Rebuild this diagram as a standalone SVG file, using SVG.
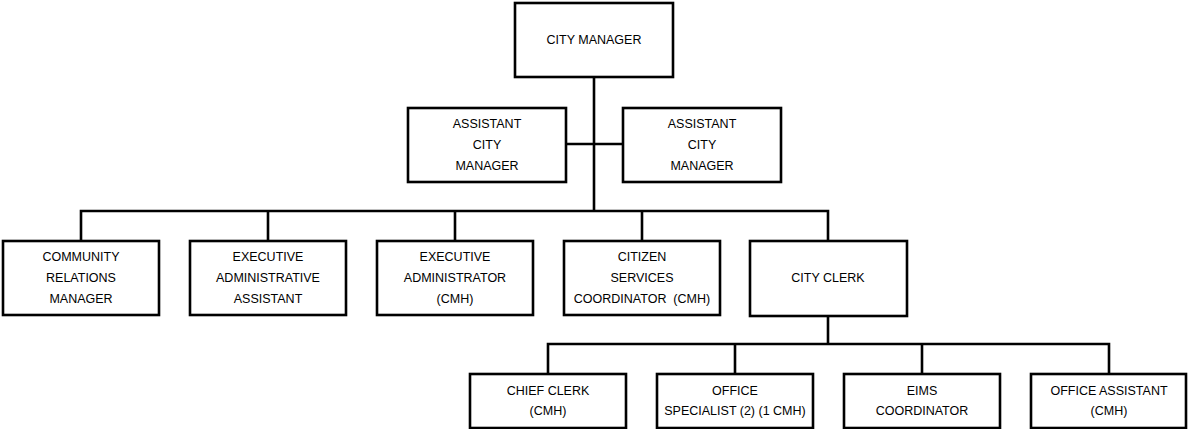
<svg xmlns="http://www.w3.org/2000/svg" width="1190" height="429" viewBox="0 0 1190 429">
<style>
.box{fill:#fff;stroke:#000;stroke-width:2.6}
.ln{fill:none;stroke:#000;stroke-width:2.6}
text{font-family:"Liberation Sans",Arial,Helvetica,sans-serif;font-size:12.5px;fill:#000;text-anchor:middle}
</style>
<rect width="1190" height="429" fill="#fff"/>
<g id="connectors">
<path class="ln" d="M594,77V211"/>
<path class="ln" d="M566,144H623"/>
<path class="ln" d="M81,241V211H828V241"/>
<path class="ln" d="M268,211V241M455,211V241M642,211V241"/>
<path class="ln" d="M828,316V344"/>
<path class="ln" d="M548,374V344H1109V374"/>
<path class="ln" d="M735,344V374M922,344V374"/>
</g>
<g id="city-manager"><rect class="box" x="515" y="3" width="158" height="74"/><text x="594" y="44">CITY MANAGER</text></g>
<g id="asst-cm-1"><rect class="box" x="408" y="108" width="158" height="74"/><text x="487" y="128">ASSISTANT</text><text x="487" y="149">CITY</text><text x="487" y="170">MANAGER</text></g>
<g id="asst-cm-2"><rect class="box" x="623" y="108" width="158" height="74"/><text x="702" y="128">ASSISTANT</text><text x="702" y="149">CITY</text><text x="702" y="170">MANAGER</text></g>
<g id="community-relations"><rect class="box" x="3" y="241" width="156" height="74"/><text x="81" y="261">COMMUNITY</text><text x="81" y="282">RELATIONS</text><text x="81" y="303">MANAGER</text></g>
<g id="exec-admin-asst"><rect class="box" x="190" y="241" width="156" height="74"/><text x="268" y="261">EXECUTIVE</text><text x="268" y="282">ADMINISTRATIVE</text><text x="268" y="303">ASSISTANT</text></g>
<g id="exec-administrator"><rect class="box" x="377" y="241" width="156" height="74"/><text x="455" y="261">EXECUTIVE</text><text x="455" y="282">ADMINISTRATOR</text><text x="455" y="303">(CMH)</text></g>
<g id="citizen-services"><rect class="box" x="564" y="241" width="156" height="74"/><text x="642" y="261">CITIZEN</text><text x="642" y="282">SERVICES</text><text x="642" y="303" xml:space="preserve">COORDINATOR  (CMH)</text></g>
<g id="city-clerk"><rect class="box" x="750" y="241" width="157" height="75"/><text x="828" y="282">CITY CLERK</text></g>
<g id="chief-clerk"><rect class="box" x="470" y="374" width="156" height="54"/><text x="548" y="395">CHIEF CLERK</text><text x="548" y="415">(CMH)</text></g>
<g id="office-specialist"><rect class="box" x="657" y="374" width="156" height="54"/><text x="735" y="395">OFFICE</text><text x="735" y="415">SPECIALIST (2) (1 CMH)</text></g>
<g id="eims-coordinator"><rect class="box" x="844" y="374" width="156" height="54"/><text x="922" y="395">EIMS</text><text x="922" y="415">COORDINATOR</text></g>
<g id="office-assistant"><rect class="box" x="1031" y="374" width="155" height="54"/><text x="1109" y="395">OFFICE ASSISTANT</text><text x="1109" y="415">(CMH)</text></g>
</svg>
